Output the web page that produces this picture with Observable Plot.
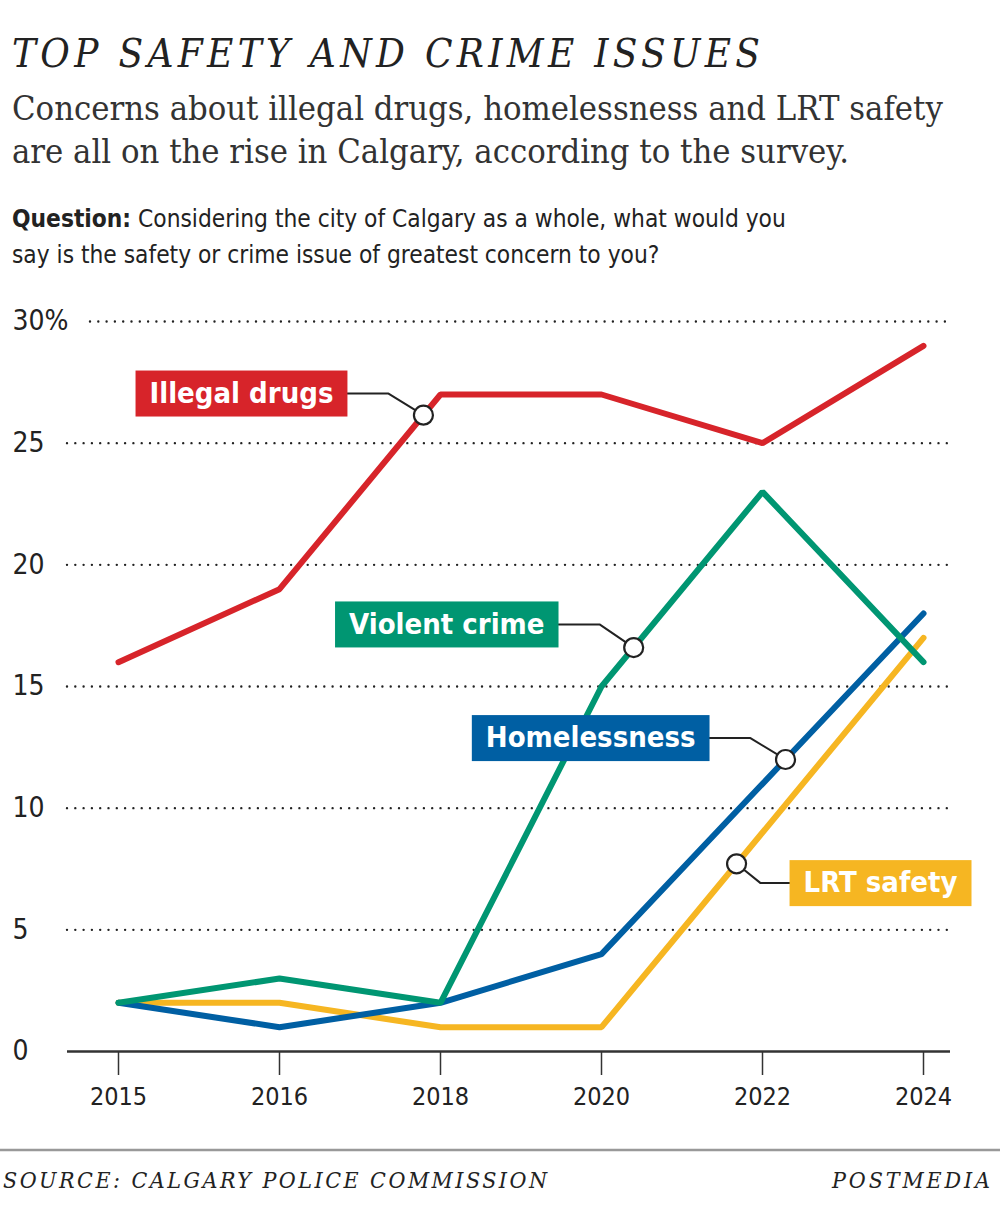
<!DOCTYPE html>
<html><head><meta charset="utf-8">
<script src="https://cdn.jsdelivr.net/npm/d3@7"></script>
<script src="https://cdn.jsdelivr.net/npm/@observablehq/plot@0.6"></script>
<style>
html,body{margin:0;padding:0;background:#fff;}
#wrap{position:relative;width:1000px;height:1231px;overflow:hidden;background:#fff;}
#head,#foot,#chart{position:absolute;left:0;}
#head{top:0;} #chart{top:290px;} #foot{top:1130px;}
svg text{font-stretch:condensed;}
</style></head><body>
<div id="wrap">
<svg id="head" width="1000" height="290"></svg>
<div id="chart"></div>
<svg id="foot" width="1000" height="101"></svg>
</div>
<script>
// ---- Data ----
const years = ["2015", "2016", "2018", "2020", "2022", "2024"];
const illegalDrugs = [16, 19, 27, 27, 25, 29];
const violentCrime = [2, 3, 2, 15, 23, 16];
const homelessness = [2, 1, 2, 4, 11, 18];
const lrtSafety = [2, 2, 1, 1, 9, 17];
const yTicks = [0, 5, 10, 15, 20, 25, 30];
const yTickLabels = ["0", "5", "10", "15", "20", "25", "30%"];

const titleText = "TOP SAFETY AND CRIME ISSUES";
const subtitleLines = ["Concerns about illegal drugs, homelessness and LRT safety",
                       "are all on the rise in Calgary, according to the survey."];
const questionLead = "Question:";
const questionLines = [" Considering the city of Calgary as a whole, what would you",
                       "say is the safety or crime issue of greatest concern to you?"];
const sourceText = "SOURCE: CALGARY POLICE COMMISSION";
const creditText = "POSTMEDIA";

// ---- Styles ----
const SERIF = "'DejaVu Serif', 'Liberation Serif', serif";
const COND = "'Liberation Sans Narrow', 'DejaVu Sans Condensed', 'Roboto Condensed', Roboto, sans-serif";
const series = [
  {name: "LRT safety", values: lrtSafety, color: "#F6B622"},
  {name: "Homelessness", values: homelessness, color: "#005FA3"},
  {name: "Violent crime", values: violentCrime, color: "#009672"},
  {name: "Illegal drugs", values: illegalDrugs, color: "#D7242A"}
];
// annotation placement (index position along x, value level of the leader)
const annots = [
  {label: "Illegal drugs", values: illegalDrugs, color: "#D7242A", at: 1.894, elbowI: 1.677, edgeI: 1.422, level: 27.04, box: "left"},
  {label: "Violent crime", values: violentCrime, color: "#009672", at: 3.2, elbowI: 2.988, edgeI: 2.733, level: 17.55, box: "left"},
  {label: "Homelessness", values: homelessness, color: "#005FA3", at: 4.143, elbowI: 3.925, edgeI: 3.671, level: 12.88, box: "left"},
  {label: "LRT safety", values: lrtSafety, color: "#F6B622", at: 3.839, elbowI: 3.988, edgeI: 4.168, level: 6.92, box: "right"}
];

const ns = "http://www.w3.org/2000/svg";
function addText(svg, x, y, str, attrs) {
  const t = document.createElementNS(ns, "text");
  t.setAttribute("x", x); t.setAttribute("y", y);
  for (const k in attrs) t.setAttribute(k, attrs[k]);
  if (str != null) t.textContent = str;
  svg.appendChild(t);
  return t;
}
function fitSpacing(t, target) {
  t.setAttribute("letter-spacing", 0);
  const w = t.getComputedTextLength();
  const n = t.textContent.length;
  t.setAttribute("letter-spacing", ((target - w) / (n - 1)).toFixed(2));
}

// ---- Header ----
const head = document.getElementById("head");
const title = addText(head, 12, 67, titleText, {"font-family": SERIF, "font-style": "italic", "font-size": 40, fill: "#222"});
fitSpacing(title, 748);
const sub1 = addText(head, 12, 120, subtitleLines[0], {"font-family": SERIF, "font-size": 28, fill: "#333"});
const sw = sub1.getComputedTextLength();
const subSize = 28 * 931 / sw;
sub1.setAttribute("font-size", subSize);
addText(head, 12, 163, subtitleLines[1], {"font-family": SERIF, "font-size": subSize, fill: "#333"});

function questionLine(y, parts, size) {
  const t = addText(head, 12, y, null, {"font-family": COND, "font-size": size, fill: "#222"});
  for (const [s, bold] of parts) {
    const sp = document.createElementNS(ns, "tspan");
    if (bold) sp.setAttribute("font-weight", "bold");
    sp.textContent = s;
    t.appendChild(sp);
  }
  return t;
}
const q1 = questionLine(227, [[questionLead, true], [questionLines[0], false]], 24);
const qw = q1.getComputedTextLength();
const qSize = 24 * 774 / qw;
q1.setAttribute("font-size", qSize);
questionLine(263, [[questionLines[1], false]], qSize);

// ---- Chart ----
const idx = years.map((_, i) => i);
const valueAt = (arr, t) => { const a = Math.floor(t), f = t - a; return arr[a] + (arr[Math.min(a + 1, arr.length - 1)] - arr[a]) * f; };
const leaderPts = annots.flatMap(a => [
  {label: a.label, i: a.edgeI, v: a.level},
  {label: a.label, i: a.elbowI, v: a.level},
  {label: a.label, i: a.at, v: valueAt(a.values, a.at)}
]);
const anchors = annots.map(a => ({i: a.at, v: valueAt(a.values, a.at)}));

const plot = Plot.plot({
  width: 1000, height: 840,
  marginTop: 31, marginBottom: 79, marginLeft: 67, marginRight: 50,
  x: {type: "linear", domain: [0, years.length - 1], insetLeft: 51, insetRight: 27, axis: null},
  y: {domain: [0, 30], axis: null},
  style: {fontFamily: COND, fontSize: "26px", color: "#222", background: "white", overflow: "visible"},
  marks: [
    Plot.ruleY(yTicks.filter(d => d > 0 && d < 30), {stroke: "#222", strokeWidth: 2.4, strokeDasharray: "0 8.3", strokeLinecap: "round"}),
    Plot.ruleY([30], {stroke: "#222", strokeWidth: 2.4, strokeDasharray: "0 8.3", strokeLinecap: "round", insetLeft: 23}),
    Plot.text(yTicks, {y: d => d, text: (d, i) => yTickLabels[i], frameAnchor: "left", textAnchor: "start", dx: -55, fontSize: 28, fill: "#222"}),
    Plot.axisX({ticks: idx, tickFormat: i => years[i], tickSize: 24, tickPadding: 12, fontSize: 25, stroke: "#333", strokeWidth: 1.5, fill: "#222"}),
    Plot.ruleY([0], {stroke: "#333", strokeWidth: 2.5}),
    ...series.map(s => Plot.line(s.values.map((v, i) => ({i, v})), {x: "i", y: "v", stroke: s.color, strokeWidth: 6, strokeLinejoin: "miter", strokeLinecap: "round"})),
    Plot.line(leaderPts, {x: "i", y: "v", z: "label", stroke: "#222", strokeWidth: 2, strokeLinejoin: "miter"}),
    Plot.dot(anchors, {x: "i", y: "v", r: 9.5, fill: "white", stroke: "#222", strokeWidth: 2.2}),
    Plot.text(annots.filter(a => a.box === "left"), {x: "edgeI", y: "level", text: "label", textAnchor: "end", dx: -14, fill: "white", fontWeight: "bold", fontSize: 29}),
    Plot.text(annots.filter(a => a.box === "right"), {x: "edgeI", y: "level", text: "label", textAnchor: "start", dx: 14, fill: "white", fontWeight: "bold", fontSize: 29})
  ]
});
document.getElementById("chart").appendChild(plot);

// label boxes behind label text
plot.querySelectorAll("text").forEach(t => {
  const a = annots.find(a => a.label === t.textContent);
  if (!a) return;
  const bb = t.getBBox();
  const r = document.createElementNS(ns, "rect");
  r.setAttribute("x", bb.x - 14);
  r.setAttribute("y", -23);
  r.setAttribute("width", bb.width + 28);
  r.setAttribute("height", 46);
  r.setAttribute("fill", a.color);
  r.setAttribute("stroke", "none");
  const tr = t.getAttribute("transform");
  if (tr) r.setAttribute("transform", tr);
  t.parentNode.insertBefore(r, t);
});

// ---- Footer ----
const foot = document.getElementById("foot");
const line = document.createElementNS(ns, "line");
line.setAttribute("x1", 0); line.setAttribute("x2", 1000);
line.setAttribute("y1", 20); line.setAttribute("y2", 20);
line.setAttribute("stroke", "#999"); line.setAttribute("stroke-width", 2.5);
foot.appendChild(line);
const src = addText(foot, 3, 58, sourceText, {"font-family": SERIF, "font-style": "italic", "font-size": 23, fill: "#222"});
fitSpacing(src, 544);
const cred = addText(foot, 832, 58, creditText, {"font-family": SERIF, "font-style": "italic", "font-size": 23, fill: "#222"});
fitSpacing(cred, 158);
</script>
</body></html>
